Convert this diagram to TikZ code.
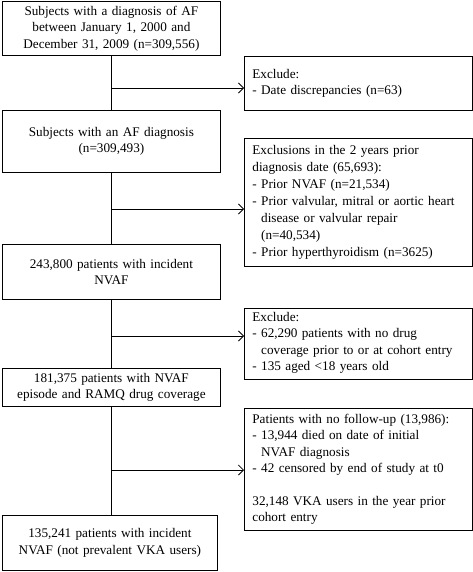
\documentclass[tikz,border=0pt]{standalone}
\usepackage{fontspec}
\setmainfont{Liberation Serif}
\usetikzlibrary{arrows, arrows.meta}
\usetikzlibrary{positioning}
\tikzset{flowfont/.style={font=\fontsize{13.2}{16.4}\selectfont},
  mainbox/.style={draw, line width=0.8pt, anchor=north west, flowfont, text width=210pt, align=center, inner xsep=4pt, inner ysep=2pt},
  sidebox/.style={draw, line width=0.8pt, anchor=north west, flowfont, text width=212pt, align=left, inner xsep=8pt, inner ysep=4pt},
  flow/.style={line width=0.8pt},
  exarrow/.style={flow, -{Straight Barb[length=5pt, width=10pt]}}}

\begin{document}
\begin{tikzpicture}[x=1pt, y=-1pt]
  \useasboundingbox (0,0) rectangle (473,572);
%% left column
  \node[mainbox, minimum height=54pt] (subj) at (2,1) {Subjects with a diagnosis of AF\\between January 1, 2000 and\\December 31, 2009 (n=309,556)};
  \node[mainbox, minimum height=62pt] (afdiag) at (2,110) {Subjects with an AF diagnosis\\(n=309,493)};
  \node[mainbox, minimum height=55pt] (incid) at (2,244) {243,800 patients with incident\\NVAF};
  \node[mainbox, minimum height=38pt] (ramq) at (2,368) {181,375 patients with NVAF\\episode and RAMQ drug coverage};
  \node[mainbox, text width=207pt, minimum height=55pt] (final) at (2,515) {135,241 patients with incident\\NVAF (not prevalent VKA users)};
%% exclusion boxes
  \node[sidebox, minimum height=54pt] (exdate) at (244,56) {Exclude:\\- Date discrepancies (n=63)};
  \node[sidebox, minimum height=128pt, font=\fontsize{13.2}{17}\selectfont] (exprior) at (244,138) {Exclusions in the 2 years prior\\diagnosis date (65,693):\\- Prior NVAF (n=21,534)\\- Prior valvular, mitral or aortic heart\\\hphantom{- }disease or valvular repair\\\hphantom{- }(n=40,534)\\- Prior hyperthyroidism (n=3625)};
  \node[sidebox, text depth=54pt] (excover) at (244,308) {Exclude:\\- 62,290 patients with no drug\\\hphantom{- }coverage prior to or at cohort entry\\- 135 aged <18 years old};
  \node[sidebox, minimum height=122pt] (exfollow) at (244,408) {Patients with no follow-up (13,986):\\- 13,944 died on date of initial\\\hphantom{- }NVAF diagnosis\\- 42 censored by end of study at t0\\[16.4pt]32,148 VKA users in the year prior\\cohort entry};
%% branch points
  \coordinate (b1) at (111,88);
  \coordinate (b2) at (111,209);
  \coordinate (b3) at (111,336);
  \coordinate (b4) at (111,470);
%% connectors
  \draw[flow] (subj) -- (afdiag);
  \draw[flow] (afdiag) -- (incid);
  \draw[flow] (incid) -- (ramq);
  \draw[flow] (ramq.south) -- (ramq.south |- final.north);
  \draw[exarrow] (b1) -- (b1 -| exdate.west);
  \draw[exarrow] (b2) -- (b2 -| exprior.west);
  \draw[exarrow] (b3) -- (b3 -| excover.west);
  \draw[exarrow] (b4) -- (b4 -| exfollow.west);
\end{tikzpicture}
\end{document}
